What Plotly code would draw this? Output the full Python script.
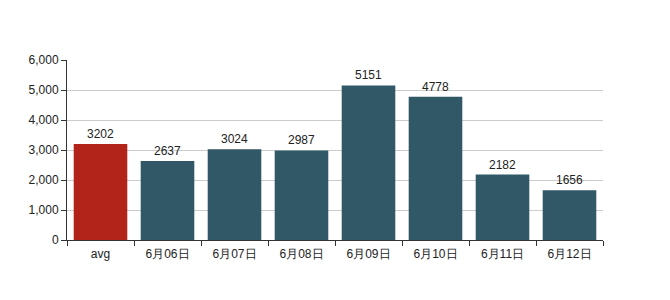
import plotly.graph_objects as go

categories = ["avg", "6月06日", "6月07日", "6月08日", "6月09日", "6月10日", "6月11日", "6月12日"]
values = [3202, 2637, 3024, 2987, 5151, 4778, 2182, 1656]
colors = ["#b22419"] + ["#305867"] * 7
y_ticks = [0, 1000, 2000, 3000, 4000, 5000, 6000]

fig = go.Figure(go.Bar(
    x=categories, y=values,
    marker=dict(color=colors, line=dict(width=0)),
    text=[str(v) for v in values], textposition="outside",
    textfont=dict(size=12, color="#222"),
    cliponaxis=False,
))
fig.update_layout(
    width=670, height=300,
    margin=dict(l=67, r=67, t=60, b=60),
    plot_bgcolor="white", paper_bgcolor="white",
    font=dict(family="Liberation Sans, Arial, sans-serif", size=12, color="#222"),
    bargap=0.2, showlegend=False,
)
fig.update_xaxes(
    showline=True, linecolor="#333", linewidth=1,
    ticks="outside", tickson="boundaries", ticklen=5, tickcolor="#333",
    showgrid=False, ticklabelstandoff=3,
)
fig.update_yaxes(
    range=[0, 6000], tickvals=y_ticks, tickformat=",d",
    showline=True, linecolor="#333", linewidth=1,
    ticks="outside", ticklen=5, tickcolor="#333",
    showgrid=True, gridcolor="#ccc", gridwidth=1, zeroline=False,
)
fig.write_html("out.html")
